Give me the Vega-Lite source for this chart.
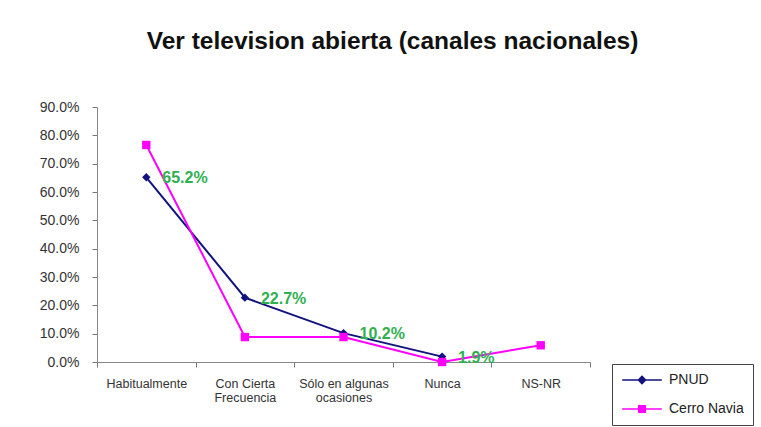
{
  "$schema": "https://vega.github.io/schema/vega-lite/v6.json",
  "autosize": "none",
  "width": 493,
  "height": 255,
  "padding": {"left": 97, "top": 107, "right": 171, "bottom": 65},
  "background": "white",
  "config": {"view": {"stroke": null}},
  "title": {
    "text": "Ver television abierta (canales nacionales)",
    "font": "Liberation Sans",
    "fontSize": 24.5,
    "fontWeight": "bold",
    "color": "#111111",
    "anchor": "middle",
    "dx": 49,
    "offset": 46
  },
  "data": {
    "values": [
      {"categoria": "Habitualmente", "serie": "PNUD", "valor": 0.652},
      {"categoria": "Con Cierta Frecuencia", "serie": "PNUD", "valor": 0.227},
      {"categoria": "Sólo en algunas ocasiones", "serie": "PNUD", "valor": 0.102},
      {"categoria": "Nunca", "serie": "PNUD", "valor": 0.019},
      {"categoria": "Habitualmente", "serie": "Cerro Navia", "valor": 0.766},
      {"categoria": "Con Cierta Frecuencia", "serie": "Cerro Navia", "valor": 0.088},
      {"categoria": "Sólo en algunas ocasiones", "serie": "Cerro Navia", "valor": 0.088},
      {"categoria": "Nunca", "serie": "Cerro Navia", "valor": 0.0},
      {"categoria": "NS-NR", "serie": "Cerro Navia", "valor": 0.059}
    ]
  },
  "encoding": {
    "x": {
      "field": "categoria",
      "type": "nominal",
      "sort": ["Habitualmente", "Con Cierta Frecuencia", "Sólo en algunas ocasiones", "Nunca", "NS-NR"],
      "scale": {"type": "band", "domain": ["Habitualmente", "Con Cierta Frecuencia", "Sólo en algunas ocasiones", "Nunca", "NS-NR"], "paddingInner": 0, "paddingOuter": 0},
      "axis": {
        "title": null,
        "labelAngle": 0,
        "tickBand": "extent",
        "tickSize": 5,
        "tickColor": "#777777",
        "domainColor": "#888888",
        "labelFont": "Liberation Sans",
        "labelFontSize": 12.5,
        "labelColor": "#333333",
        "labelPadding": 10,
        "labelLineHeight": 14,
        "labelExpr": "datum.label == 'Con Cierta Frecuencia' ? ['Con Cierta', 'Frecuencia'] : datum.label == 'Sólo en algunas ocasiones' ? ['Sólo en algunas', 'ocasiones'] : datum.label"
      }
    },
    "y": {
      "field": "valor",
      "type": "quantitative",
      "scale": {"domain": [0, 0.9], "nice": false},
      "axis": {
        "title": null,
        "format": ".1%",
        "values": [0, 0.1, 0.2, 0.3, 0.4, 0.5, 0.6, 0.7, 0.8, 0.9],
        "grid": false,
        "tickSize": 5,
        "tickColor": "#777777",
        "domainColor": "#888888",
        "labelFont": "Liberation Sans",
        "labelFontSize": 14,
        "labelColor": "#333333",
        "labelPadding": 13
      }
    },
    "color": {
      "field": "serie",
      "type": "nominal",
      "scale": {"domain": ["PNUD", "Cerro Navia"], "range": ["#12127f", "#ff00ff"]},
      "legend": {
        "title": null,
        "orient": "none",
        "legendX": 515,
        "legendY": 257,
        "strokeColor": "#444444",
        "fillColor": "white",
        "padding": 9,
        "rowPadding": 15,
        "symbolSize": 144,
        "symbolOffset": 14,
        "labelOffset": 20,
        "labelLimit": 200,
        "labelFont": "Liberation Sans",
        "labelFontSize": 14,
        "labelColor": "#222222",
        "encode": {
          "symbols": {
            "update": {
              "shape": {"signal": "datum.value == 'PNUD' ? 'M-3.3,0H3.3M0,-0.6L0.6,0L0,0.6L-0.6,0Z' : 'M-3.3,0H3.3M-0.55,-0.55H0.55V0.55H-0.55Z'"},
              "stroke": {"signal": "datum.value == 'PNUD' ? '#12127f' : '#ff00ff'"},
              "fill": {"signal": "datum.value == 'PNUD' ? '#12127f' : '#ff00ff'"},
              "strokeWidth": {"value": 1.5},
              "size": {"value": 144},
              "opacity": {"value": 1}
            }
          }
        }
      }
    }
  },
  "layer": [
    {
      "mark": {"type": "line", "strokeWidth": 2},
      "encoding": {
        "detail": {"field": "serie"}
      }
    },
    {
      "mark": {"type": "point", "filled": true, "size": 70, "opacity": 1},
      "encoding": {
        "shape": {"condition": {"test": "datum.serie == 'PNUD'", "value": "diamond"}, "value": "square"}
      }
    },
    {
      "transform": [{"filter": "datum.serie == 'PNUD'"}],
      "mark": {"type": "text", "align": "left", "baseline": "middle", "dx": 16, "dy": 1, "font": "Liberation Sans", "fontSize": 16, "fontWeight": "bold"},
      "encoding": {
        "text": {"field": "valor", "type": "quantitative", "format": ".1%"},
        "color": {"value": "#2fb050"}
      }
    }
  ]
}
